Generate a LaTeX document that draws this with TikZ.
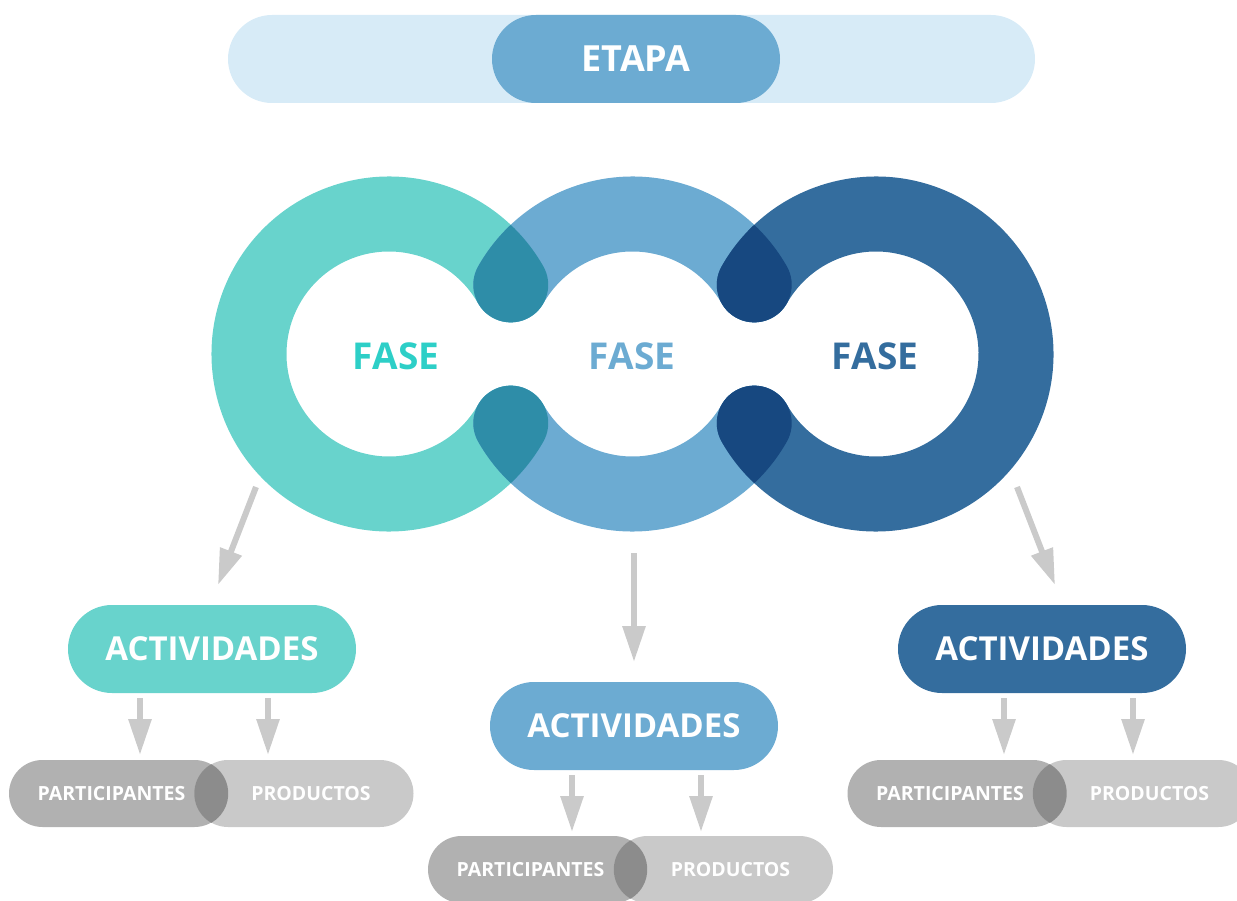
\documentclass[tikz,border=0pt]{standalone}
\usepackage{fontspec}
\setmainfont{Open Sans}
\usetikzlibrary{arrows.meta}
\definecolor{ringA}{HTML}{68D3CC}
\definecolor{ringB}{HTML}{6CABD2}
\definecolor{ringC}{HTML}{346D9E}
\definecolor{txtA}{HTML}{2DCFC7}
\definecolor{ovAB}{HTML}{2E8DA8}
\definecolor{ovBC}{HTML}{174880}
\definecolor{etapabg}{HTML}{D7EBF7}
\definecolor{grayP}{HTML}{B1B1B1}
\definecolor{grayQ}{HTML}{C9C9C9}
\definecolor{grayO}{HTML}{8C8C8C}
\definecolor{arrgray}{HTML}{CACACA}
\newcommand\ringband[5]{\path[#5] (#1,#2) ++(#3:177.5) arc[start angle=#3,end angle=#4,radius=177.5] arc[start angle=#4,end angle=#4+180,radius=37.5] arc[start angle=#4,end angle=#3,radius=102.5] arc[start angle=#3+180,end angle=#3+360,radius=37.5] -- cycle;}
\tikzset{
  pill/.style={shape=rectangle, rounded corners=44pt, inner sep=0pt, minimum height=88pt, minimum width=288pt, text=white, font=\bfseries\fontsize{33}{38}\selectfont},
  gpill/.style={shape=rectangle, rounded corners=33.5pt, inner sep=0pt, minimum height=67pt, minimum width=219pt, text=white, font=\bfseries\fontsize{19.5}{22}\selectfont},
  fase/.style={font=\bfseries\fontsize{37}{40}\selectfont, inner sep=0pt},
  arr/.style={draw=arrgray, line width=6pt, -{Triangle[length=36pt,width=22pt]}}
}
\begin{document}
\begin{tikzpicture}[x=1pt,y=-1pt]
\useasboundingbox (0,0) rectangle (1237,901);
% ETAPA
\node[pill, fill=etapabg, minimum width=807pt] (bar) at (631.5,59) {};
\node[pill, fill=ringB, font=\bfseries\fontsize{36}{40}\selectfont] (etapa) at (636,59) {ETAPA};
% rings
\ringband{389}{354}{29.6}{330.4}{fill=ringA}
\ringband{632.5}{354}{29.6}{150.4}{fill=ringB}
\ringband{632.5}{354}{209.6}{330.4}{fill=ringB}
\ringband{876}{354}{-150.4}{150.4}{fill=ringC}
\begin{scope}
\ringband{389}{354}{29.6}{330.4}{clip}
\ringband{632.5}{354}{29.6}{150.4}{fill=ovAB}
\ringband{632.5}{354}{209.6}{330.4}{fill=ovAB}
\end{scope}
\begin{scope}
\ringband{876}{354}{-150.4}{150.4}{clip}
\ringband{632.5}{354}{29.6}{150.4}{fill=ovBC}
\ringband{632.5}{354}{209.6}{330.4}{fill=ovBC}
\end{scope}
\node[fase, text=txtA] (faseA) at (396,356) {FASE};
\node[fase, text=ringB] (faseB) at (632,356) {FASE};
\node[fase, text=ringC] (faseC) at (875,356) {FASE};
% actividades
\node[pill, fill=ringA] (actA) at (212,649) {ACTIVIDADES};
\node[pill, fill=ringB] (actB) at (634,726) {ACTIVIDADES};
\node[pill, fill=ringC] (actC) at (1042,649) {ACTIVIDADES};
% gray pills
\node[gpill, fill=grayP] (partA) at (118.5,793.5) {PARTICIPANTES\hspace*{14pt}};
\node[gpill, fill=grayQ] (prodA) at (304,793.5) {\hspace*{14pt}PRODUCTOS};
\node[gpill, fill=grayP] (partB) at (537.5,869.5) {PARTICIPANTES\hspace*{14pt}};
\node[gpill, fill=grayQ] (prodB) at (723.5,869.5) {\hspace*{14pt}PRODUCTOS};
\node[gpill, fill=grayP] (partC) at (957,793.5) {PARTICIPANTES\hspace*{14pt}};
\node[gpill, fill=grayQ] (prodC) at (1142.5,793.5) {\hspace*{14pt}PRODUCTOS};
\foreach \p/\q in {partA/prodA, partB/prodB, partC/prodC}{
  \begin{scope}
  \clip[rounded corners=33.5pt] (\p.south west) rectangle (\p.north east);
  \fill[grayO, rounded corners=33.5pt] (\q.south west) rectangle (\q.north east);
  \end{scope}
}
% arrow coordinates
\coordinate (r1s) at (256,487); \coordinate (r1e) at (218,585);
\coordinate (r2s) at (634,553); \coordinate (r2e) at (634,662);
\coordinate (r3s) at (1017,487); \coordinate (r3e) at (1055,585);
\coordinate (sa1) at (140,698); \coordinate (ea1) at (140,755);
\coordinate (sa2) at (268,698); \coordinate (ea2) at (268,755);
\coordinate (sb1) at (572,775); \coordinate (eb1) at (572,832);
\coordinate (sb2) at (701,775); \coordinate (eb2) at (701,832);
\coordinate (sc1) at (1004,698); \coordinate (ec1) at (1004,755);
\coordinate (sc2) at (1133,698); \coordinate (ec2) at (1133,755);
\draw[arr] (r1s) -- (r1e);
\draw[arr] (r2s) -- (r2e);
\draw[arr] (r3s) -- (r3e);
\draw[arr] (sa1) -- (ea1);
\draw[arr] (sa2) -- (ea2);
\draw[arr] (sb1) -- (eb1);
\draw[arr] (sb2) -- (eb2);
\draw[arr] (sc1) -- (ec1);
\draw[arr] (sc2) -- (ec2);
\end{tikzpicture}
\end{document}
